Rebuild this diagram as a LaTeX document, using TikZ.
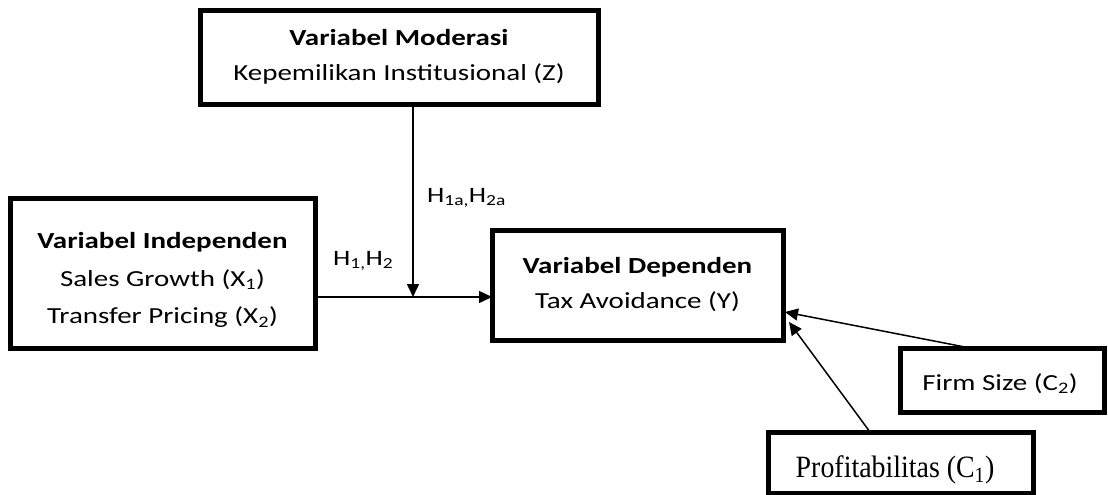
\documentclass[tikz,border=0pt]{standalone}
\usepackage{fontspec}
\setmainfont{Carlito}[FakeStretch=1.26]
\newfontfamily\timesf{Liberation Serif}[FakeStretch=0.9]
\usetikzlibrary{arrows.meta}
\begin{document}
\begin{tikzpicture}[x=1pt,y=-1pt,
  box/.style={draw,line width=5pt,inner sep=0pt,outer sep=0pt},
  txt/.style={align=center,inner sep=0pt,font=\fontsize{23}{35}\selectfont},
  conn/.style={line width=1.5pt,-{Triangle[length=13pt,width=12pt]}},
  lbl/.style={font=\fontsize{22}{28}\selectfont,inner sep=0pt}]
\useasboundingbox (0,0) rectangle (1108,495);
\node[box,minimum width=398pt,minimum height=93pt] (mod) at (399,57.5) {};
\node[txt] (modt) at (399,57) {\textbf{Variabel Moderasi}\\Kepemilikan Institusional (Z)};
\node[box,minimum width=305pt,minimum height=150pt] (ind) at (162.5,273) {};
\node[txt,font=\fontsize{23}{37.5}\selectfont] (indt) at (162.5,280)
  {\textbf{Variabel Independen}\\Sales Growth (X\textsubscript{1})\\Transfer Pricing (X\textsubscript{2})};
\node[box,minimum width=291pt,minimum height=110pt] (dep) at (637.5,285) {};
\node[txt] (dept) at (637.5,285) {\textbf{Variabel Dependen}\\Tax Avoidance (Y)};
\node[box,minimum width=204pt,minimum height=64pt] (firm) at (1002,380) {};
\node[txt,anchor=base] (firmt) at (1000,390) {Firm Size (C\textsubscript{2})};
\node[box,minimum width=265pt,minimum height=61pt] (prof) at (900.5,462.5) {};
\node[txt,anchor=base,font=\timesf\fontsize{31}{35}\selectfont] (proft) at (895,477) {Profitabilitas (C\textsubscript{1})};
\coordinate (m) at (413,297);
\coordinate (fa) at (970,348);
\coordinate (pa) at (870,432);
\coordinate (ft) at (785,312);
\coordinate (pt) at (789,322);
\draw[conn] (ind.east |- m) -- (dep.west |- m);
\draw[conn] (mod.south -| m) -- (m);
\draw[conn] (fa) -- (ft);
\draw[conn] (pa) -- (pt);
\node[lbl,anchor=base west] (h1a) at (427,202) {H\textsubscript{1a,}H\textsubscript{2a}};
\node[lbl,anchor=base west] (h1) at (333,265) {H\textsubscript{1,}H\textsubscript{2}};
\end{tikzpicture}
\end{document}
